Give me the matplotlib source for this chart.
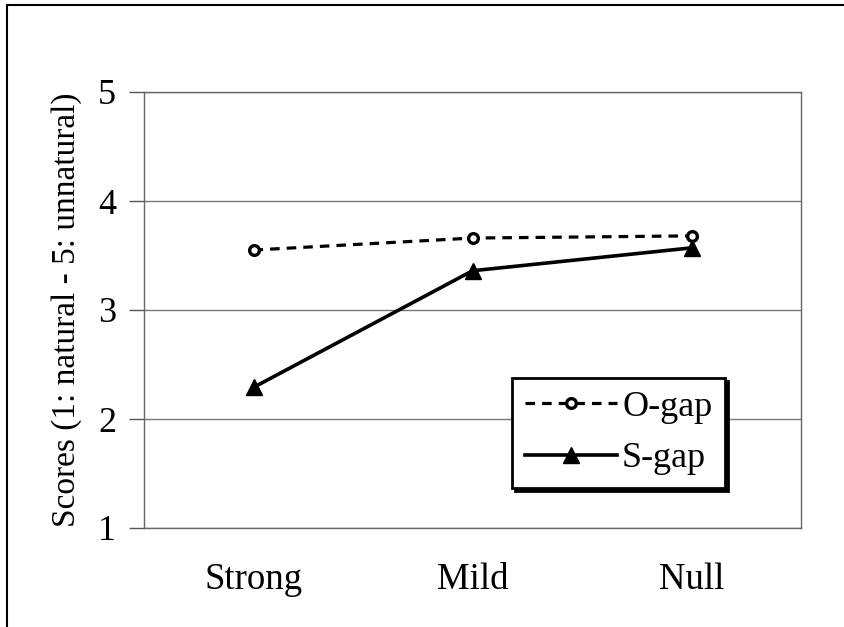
import matplotlib

matplotlib.use("Agg")
import matplotlib.pyplot as plt
from matplotlib.patches import Rectangle

plt.rcParams["font.family"] = ["Liberation Serif", "DejaVu Serif"]

categories = ["Strong", "Mild", "Null"]
o_gap = [3.55, 3.66, 3.68]
s_gap = [2.29, 3.36, 3.57]
y_ticks = [1, 2, 3, 4, 5]

W, H = 844, 627
fig = plt.figure(figsize=(W / 100, H / 100), dpi=100)

# plot area in pixel coordinates
left, right, top, bottom = 144, 801, 92, 528
ax = fig.add_axes([left / W, 1 - bottom / H, (right - left) / W, (bottom - top) / H])

x = list(range(len(categories)))
ax.plot(x, o_gap, color="black", linestyle=(0, (3, 2.2)), linewidth=2.3,
        marker="o", markersize=7, markerfacecolor="white", markeredgewidth=2.4,
        label="O-gap", zorder=3)
ax.plot(x, s_gap, color="black", linestyle="-", linewidth=2.6,
        marker="^", markersize=11, label="S-gap", zorder=3)

ax.set_xlim(-0.5, len(categories) - 0.5)
ax.set_ylim(1, 5)
ax.set_yticks(y_ticks)
ax.set_xticks(x)
ax.set_xticklabels(categories)
ax.tick_params(axis="x", length=0, pad=25, labelsize=26.5)
ax.tick_params(axis="y", length=11, width=1, color="#555555", pad=9, labelsize=26)
ax.yaxis.grid(True, color="#777777", linewidth=1)
ax.set_axisbelow(True)
for side in ["left", "right", "top", "bottom"]:
    ax.spines[side].set_color("#666666")
    ax.spines[side].set_linewidth(1)

ax.set_ylabel("Scores (1: natural - 5: unnatural)", fontsize=24)
ax.yaxis.set_label_coords((82 - left) / (right - left), 0.5)

leg = ax.legend(loc="lower right", bbox_to_anchor=((725 - left) / (right - left), (bottom - 488) / (bottom - top)),
                fontsize=26, frameon=True, fancybox=False, shadow={"color": "black", "alpha": 1},
                edgecolor="black", handlelength=2.55, handletextpad=0.15, borderpad=0.35,
                labelspacing=0.5, borderaxespad=0)
leg.get_frame().set_linewidth(2)

# outer chart frame
fig.add_artist(Rectangle((7 / W, -0.1), 1.2, 1 - 5 / H + 0.1, transform=fig.transFigure,
                         fill=False, edgecolor="black", linewidth=1.5))

fig.savefig("out.png", dpi=100)
